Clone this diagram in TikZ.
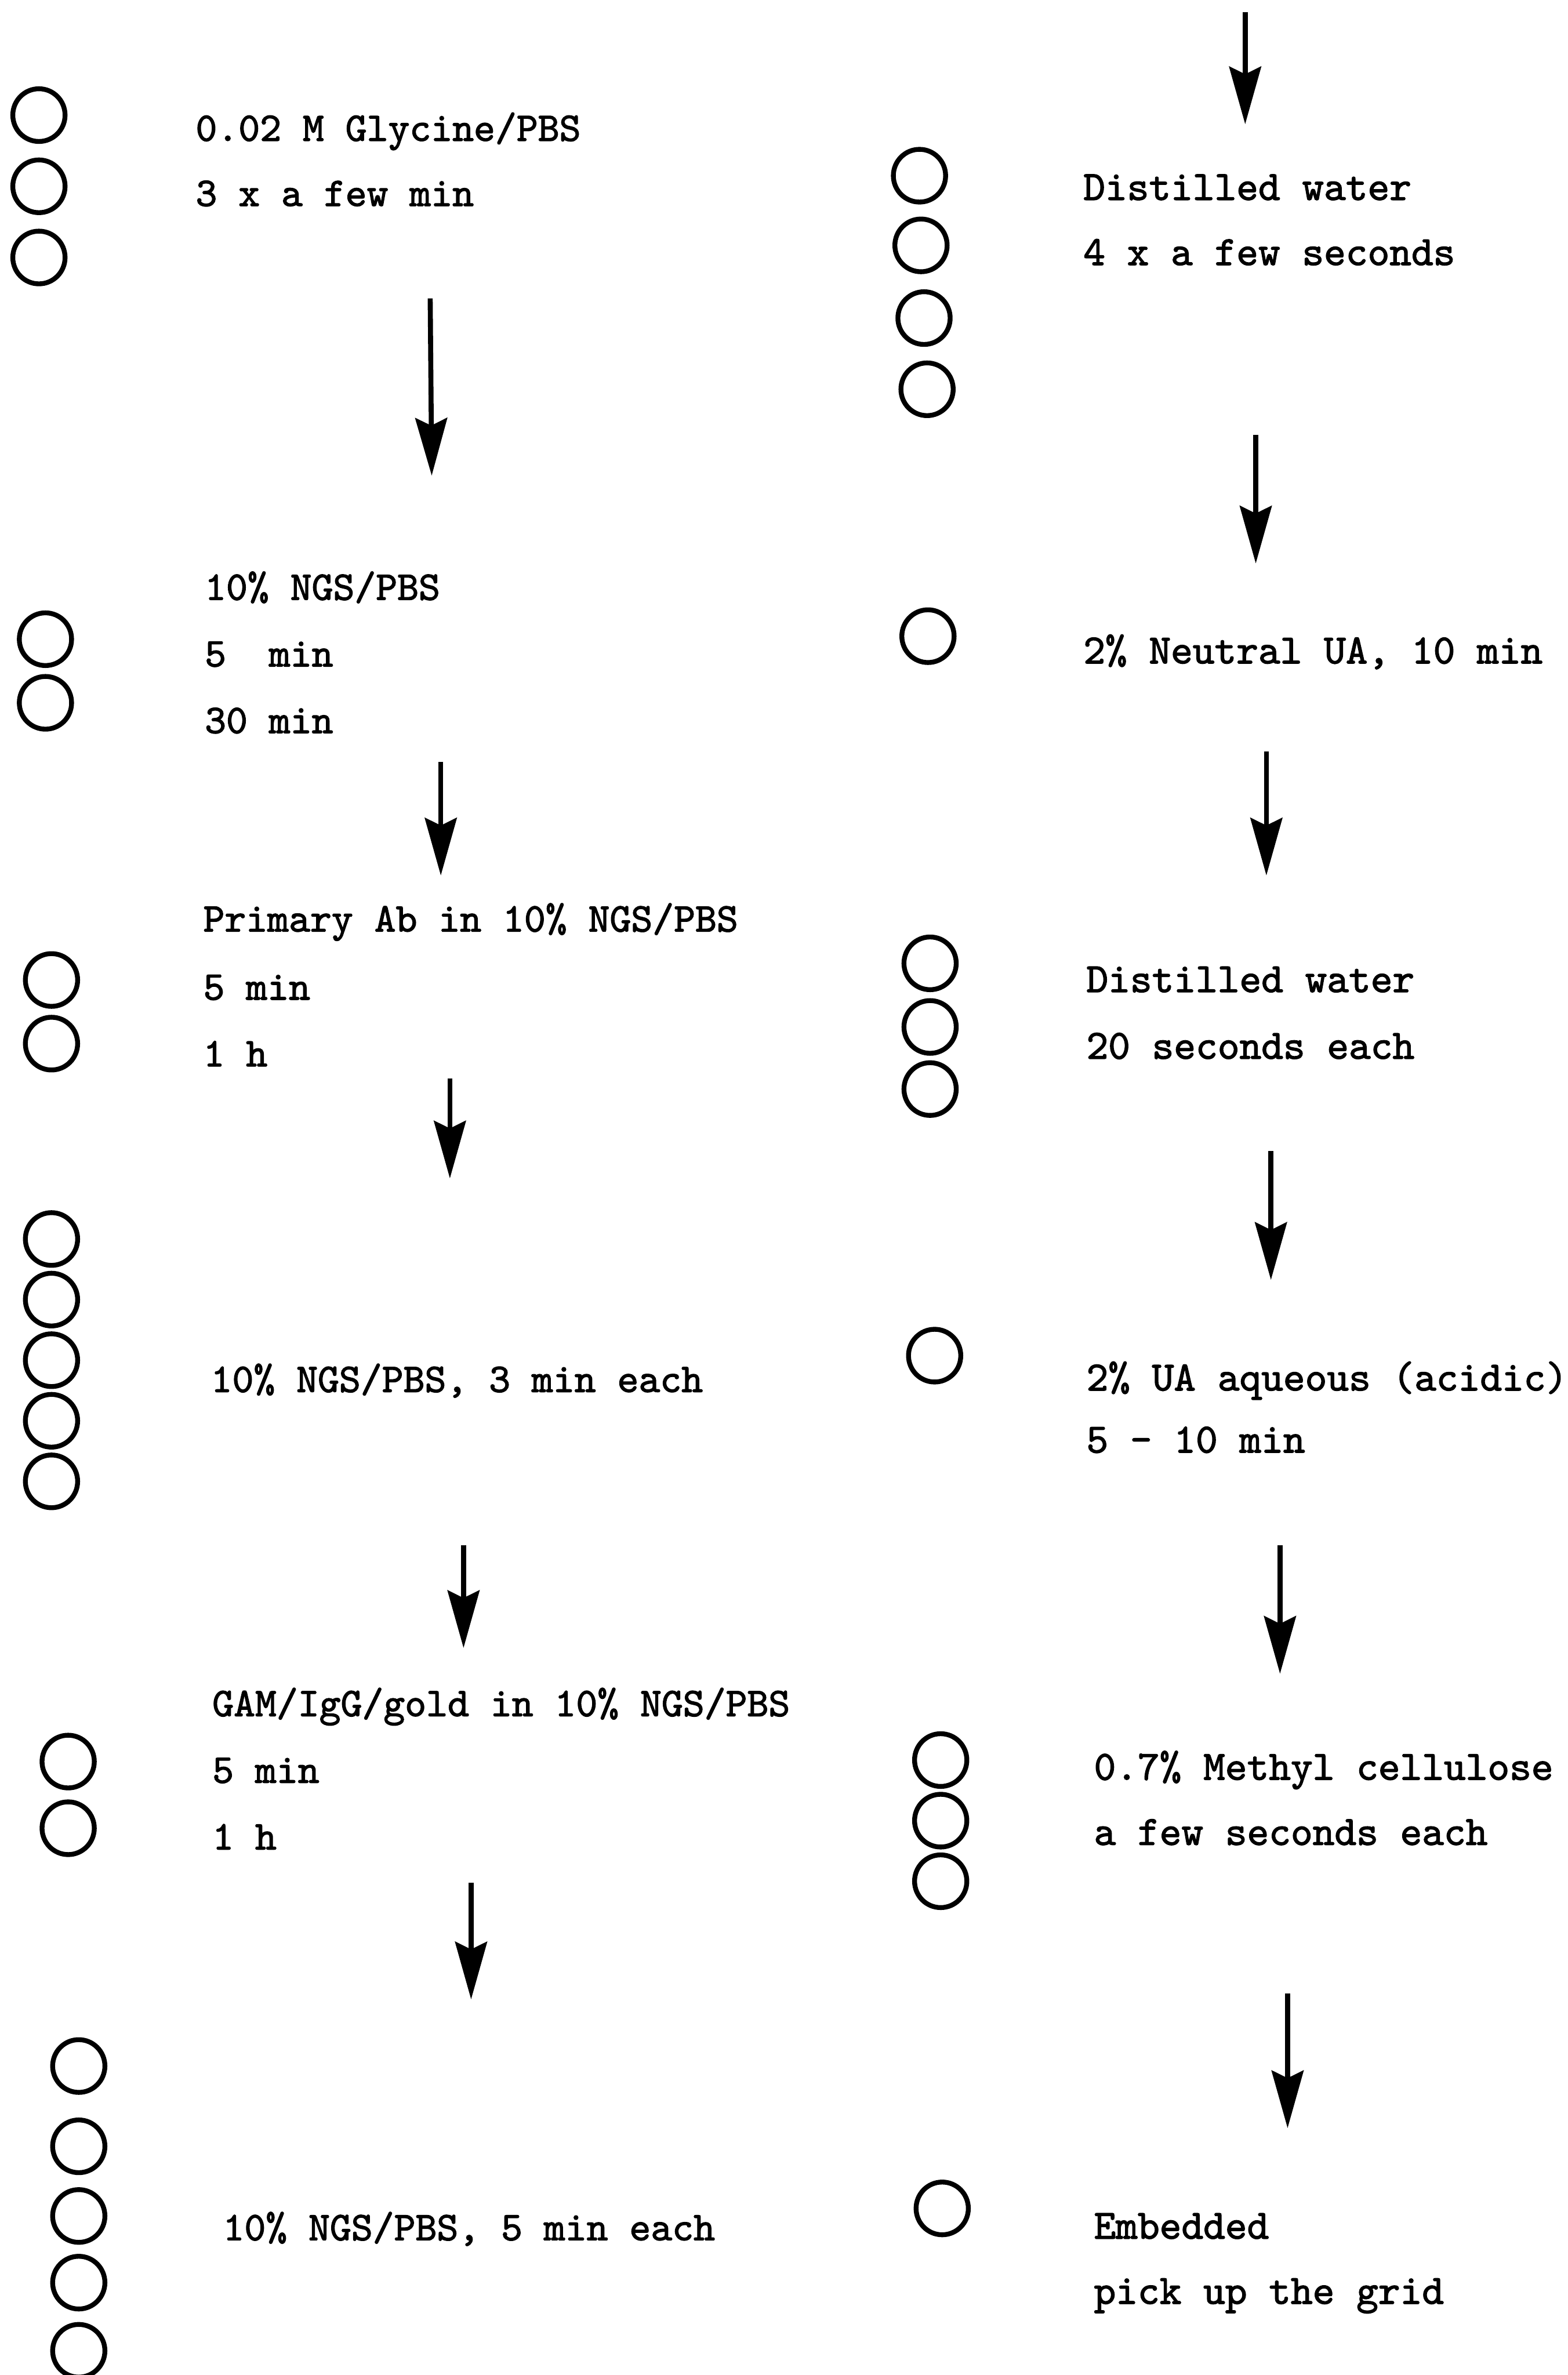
\documentclass[tikz,border=0pt]{standalone}
\usepackage{fontspec}
\newfontfamily\twfont{lmmono10-regular.otf}[FakeBold=1.9]
\usetikzlibrary{arrows.meta,shapes.geometric}
\begin{document}
\begin{tikzpicture}[x=1pt,y=-1pt,
  well/.style={draw=black,line width=3.2pt,ellipse,minimum width=34.5pt,minimum height=34.8pt,inner sep=0pt},
  lbl/.style={anchor=base west,inner sep=0pt,font=\fontsize{26.9}{30}\selectfont\twfont},
  rlbl/.style={lbl,font=\fontsize{27.5}{30}\selectfont\twfont},
  flow/.style={line width=3.3pt,-{Stealth[length=38pt,width=21pt,inset=5pt]}}]
\fill[white] (0,0) rectangle (1035,1568);
\useasboundingbox (0,0) rectangle (1035,1568);
% ---------- left column ----------
% step 1
\node[well] (c1a) at (25.7,76) {};
\node[well] (c1b) at (25.7,123) {};
\node[well] (c1c) at (25.7,170) {};
\node[lbl] (t1a) at (129,93) {0.02 M Glycine/PBS};
\node[lbl] (t1b) at (129,136) {3 x a few min};
\coordinate (a1s) at (284,197); \coordinate (a1e) at (285,314);
\draw[flow] (a1s) -- (a1e);
% step 2
\node[well] (c2a) at (30,422) {};
\node[well] (c2b) at (30,464) {};
\node[lbl] (t2a) at (135,396) {10\% NGS/PBS};
\node[lbl] (t2b) at (135,440) {5\ \ min};
\node[lbl] (t2c) at (135,484) {30 min};
\coordinate (a2s) at (291,503); \coordinate (a2e) at (291,578);
\draw[flow] (a2s) -- (a2e);
% step 3
\node[well] (c3a) at (34,647) {};
\node[well] (c3b) at (34,689) {};
\node[lbl] (t3a) at (134,615) {Primary Ab in 10\% NGS/PBS};
\node[lbl] (t3b) at (134,660) {5 min};
\node[lbl] (t3c) at (134,704) {1 h};
\coordinate (a3s) at (297,712); \coordinate (a3e) at (297,778);
\draw[flow] (a3s) -- (a3e);
% step 4
\node[well] (c4a) at (34,818) {};
\node[well] (c4b) at (34,858) {};
\node[well] (c4c) at (34,898) {};
\node[well] (c4d) at (34,938) {};
\node[well] (c4e) at (34,978) {};
\node[lbl] (t4a) at (139,919) {10\% NGS/PBS, 3 min each};
\coordinate (a4s) at (306,1020); \coordinate (a4e) at (306,1088);
\draw[flow] (a4s) -- (a4e);
% step 5
\node[well] (c5a) at (45,1163) {};
\node[well] (c5b) at (45,1207) {};
\node[lbl] (t5a) at (140,1133) {GAM/IgG/gold in 10\% NGS/PBS};
\node[lbl] (t5b) at (140,1177) {5 min};
\node[lbl] (t5c) at (140,1221) {1 h};
\coordinate (a5s) at (311,1243); \coordinate (a5e) at (311,1320);
\draw[flow] (a5s) -- (a5e);
% step 6
\node[well] (c6a) at (52,1364) {};
\node[well] (c6b) at (52,1417) {};
\node[well] (c6c) at (52,1463) {};
\node[well] (c6d) at (52,1507) {};
\node[well] (c6e) at (52,1552) {};
\node[lbl] (t6a) at (147,1479) {10\% NGS/PBS, 5 min each};
% ---------- right column ----------
\coordinate (r0s) at (822,8); \coordinate (r0e) at (822,82);
\draw[flow] (r0s) -- (r0e);
% step 7
\node[well] (c7a) at (607,116) {};
\node[well] (c7b) at (608,162) {};
\node[well] (c7c) at (610,210) {};
\node[well] (c7d) at (612,257) {};
\node[rlbl] (t7a) at (715,132) {Distilled water};
\node[rlbl] (t7b) at (715,175) {4 x a few seconds};
\coordinate (r1s) at (829,287); \coordinate (r1e) at (829,372);
\draw[flow] (r1s) -- (r1e);
% step 8
\node[well] (c8a) at (612.6,420) {};
\node[rlbl] (t8a) at (715,438) {2\% Neutral UA, 10 min};
\coordinate (r2s) at (836,496); \coordinate (r2e) at (836,578);
\draw[flow] (r2s) -- (r2e);
% step 9
\node[well] (c9a) at (614,636) {};
\node[well] (c9b) at (614,678) {};
\node[well] (c9c) at (614,719) {};
\node[rlbl] (t9a) at (717,655) {Distilled water};
\node[rlbl] (t9b) at (717,699) {20 seconds each};
\coordinate (r3s) at (839,760); \coordinate (r3e) at (839,845);
\draw[flow] (r3s) -- (r3e);
% step 10
\node[well] (c10a) at (617,895) {};
\node[rlbl] (t10a) at (717,918) {2\% UA aqueous (acidic)};
\node[rlbl] (t10b) at (717,959) {5 - 10 min};
\coordinate (r4s) at (845,1020); \coordinate (r4e) at (845,1105);
\draw[flow] (r4s) -- (r4e);
% step 11
\node[well] (c11a) at (621,1162) {};
\node[well] (c11b) at (621,1202) {};
\node[well] (c11c) at (621,1242) {};
\node[rlbl] (t11a) at (722,1175) {0.7\% Methyl cellulose};
\node[rlbl] (t11b) at (722,1218) {a few seconds each};
\coordinate (r5s) at (850,1316); \coordinate (r5e) at (850,1405);
\draw[flow] (r5s) -- (r5e);
% step 12
\node[well] (c12a) at (622,1458) {};
\node[rlbl] (t12a) at (722,1478) {Embedded};
\node[rlbl] (t12b) at (722,1521) {pick up the grid};
\end{tikzpicture}
\end{document}
